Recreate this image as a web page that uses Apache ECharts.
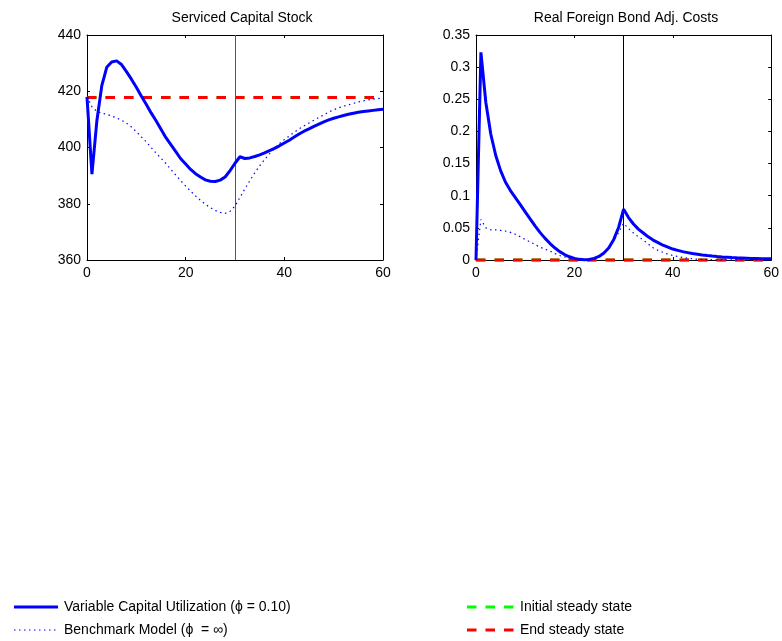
<!DOCTYPE html>
<html>
<head>
<meta charset="utf-8">
<script src="https://cdn.jsdelivr.net/npm/echarts@6/dist/echarts.min.js"></script>
<style>
  html, body { margin: 0; padding: 0; background: #ffffff; }
  #chart { width: 782px; height: 641px; }
</style>
</head>
<body>
<div id="chart"></div>
<script>
// Quarters after the shock (0..60)
const periods = Array.from({ length: 61 }, (_, i) => i);

// Serviced capital stock
const capitalVariable = [
  418.0, 390.5, 409.5, 422.0, 428.5, 430.4, 430.8, 429.5, 427.0, 424.3,
  421.4, 418.3, 415.4, 412.3, 409.5, 406.5, 403.5, 401.0, 398.5, 396.0,
  394.1, 392.2, 390.7, 389.5, 388.5, 388.0, 387.9, 388.4, 389.5, 391.8,
  394.4, 396.7, 396.1, 396.3, 396.8, 397.4, 398.1, 398.9, 399.7, 400.6,
  401.6, 402.6, 403.7, 404.8, 405.8, 406.6, 407.5, 408.3, 409.1, 409.8,
  410.4, 410.9, 411.4, 411.8, 412.2, 412.5, 412.8, 413.0, 413.2, 413.4,
  413.6
];
const capitalBenchmark = [
  418.0, 414.5, 412.8, 412.2, 411.8, 411.2, 410.5, 409.7, 408.7, 407.3,
  405.6, 403.8, 402.0, 400.0, 398.0, 396.2, 394.3, 392.2, 390.2, 388.2,
  386.3, 384.5, 382.8, 381.2, 379.8, 378.6, 377.6, 376.9, 376.6, 377.3,
  379.2, 382.2, 385.3, 388.2, 391.0, 393.5, 395.7, 397.8, 399.7, 401.4,
  402.8, 404.1, 405.4, 406.6, 407.7, 408.7, 409.7, 410.7, 411.6, 412.6,
  413.4, 414.1, 414.7, 415.2, 415.7, 416.2, 416.6, 416.9, 417.2, 417.4,
  417.6
];
const capitalInitialSS = 417.8;
const capitalEndSS = 417.8;

// Real foreign bond adjustment costs
const costVariable = [
  0.000, 0.323, 0.245, 0.196, 0.163, 0.139, 0.121, 0.108, 0.097, 0.086,
  0.075, 0.064, 0.053, 0.043, 0.034, 0.026, 0.019, 0.013, 0.0085, 0.005,
  0.0025, 0.001, 0.0003, 0.0008, 0.0025, 0.0055, 0.011, 0.019, 0.032, 0.051,
  0.079, 0.066, 0.056, 0.048, 0.042, 0.036, 0.031, 0.027, 0.023, 0.020,
  0.017, 0.015, 0.013, 0.0115, 0.010, 0.0089, 0.0078, 0.0069, 0.0061, 0.0054,
  0.0048, 0.0043, 0.0038, 0.0034, 0.0031, 0.0028, 0.0025, 0.0023, 0.0021, 0.0019,
  0.0018
];
const costBenchmark = [
  0.000, 0.063, 0.050, 0.047, 0.047, 0.046, 0.045, 0.043, 0.040, 0.036,
  0.032, 0.028, 0.024, 0.020, 0.017, 0.014, 0.010, 0.007, 0.0048, 0.003,
  0.0016, 0.0006, 0.0001, 0.0005, 0.002, 0.0055, 0.011, 0.019, 0.030, 0.043,
  0.057, 0.049, 0.042, 0.036, 0.031, 0.025, 0.019, 0.015, 0.012, 0.009,
  0.007, 0.0055, 0.004, 0.0028, 0.002, 0.0012, 0.0008, 0.0006, 0.0004, 0.0003,
  0.0002, 0.0002, 0.0001, 0.0001, 0.0001, 0.0001, 0.0, 0.0, 0.0, 0.0,
  0.0
];
const costInitialSS = 0;
const costEndSS = 0;

// Date of the regime change marked in both panels
const switchPeriod = 30;

// Axis ranges and tick spacing
const xRange = { min: 0, max: 60, interval: 20 };
const capitalRange = { min: 360, max: 440, interval: 20 };
const costRange = { min: 0, max: 0.35, interval: 0.05 };

const panelTitles = ['Serviced Capital Stock', 'Real Foreign Bond Adj. Costs'];
const names = {
  variable: 'Variable Capital Utilization (\u03D5 = 0.10)',
  benchmark: 'Benchmark Model (\u03D5  = \u221E)',
  initial: 'Initial steady state',
  end: 'End steady state'
};

const FONT = '"Liberation Sans", Arial, Helvetica, sans-serif';
const BLUE = '#0000ff';
const GREEN = '#00ff00';
const RED = '#ff0000';

// Line looks shared by the plotted series and their legend keys
const styles = {
  variable: { stroke: BLUE, lineWidth: 3, lineDash: null },
  benchmark: { stroke: BLUE, lineWidth: 1.2, lineDash: [1.5, 3.5] },
  initial: { stroke: GREEN, lineWidth: 3, lineDash: [9.5, 9] },
  end: { stroke: RED, lineWidth: 3, lineDash: [9.5, 9] }
};
const toLineStyle = (s) => ({ color: s.stroke, width: s.lineWidth, type: s.lineDash || 'solid' });

const pairs = (vals) => periods.map((t, i) => [t, vals[i]]);
const flat = (v) => periods.map((t) => [t, v]);

function mainAxis(range, pos, gridIndex) {
  return {
    type: 'value', gridIndex, position: pos,
    min: range.min, max: range.max, interval: range.interval,
    axisLine: { show: true, onZero: false, lineStyle: { color: '#000', width: 1 } },
    axisTick: { show: true, inside: true, length: 3, lineStyle: { color: '#000' } },
    axisLabel: {
      show: true, color: '#000', fontSize: 14, fontFamily: FONT, margin: 6,
      formatter: (v) => String(+v.toFixed(2))
    },
    splitLine: { show: false }
  };
}
function frameAxis(range, pos, gridIndex) {
  return {
    type: 'value', gridIndex, position: pos,
    min: range.min, max: range.max, interval: range.interval,
    axisLine: { show: true, onZero: false, lineStyle: { color: '#000', width: 1 } },
    axisTick: { show: true, inside: true, length: 3, lineStyle: { color: '#000' } },
    axisLabel: { show: false },
    splitLine: { show: false }
  };
}

function panelSeries(gridIdx, variable, benchmark, initSS, endSS, switchColor) {
  const xi = gridIdx * 2, yi = gridIdx * 2;
  const base = { type: 'line', xAxisIndex: xi, yAxisIndex: yi, symbol: 'none', clip: false, silent: true };
  return [
    Object.assign({}, base, {
      name: names.initial, data: flat(initSS), z: 3,
      lineStyle: toLineStyle(styles.initial), itemStyle: { color: GREEN }
    }),
    Object.assign({}, base, {
      name: names.end, data: flat(endSS), z: 4,
      lineStyle: toLineStyle(styles.end), itemStyle: { color: RED }
    }),
    Object.assign({}, base, {
      name: names.benchmark, data: pairs(benchmark), z: 5,
      lineStyle: toLineStyle(styles.benchmark), itemStyle: { color: BLUE }
    }),
    Object.assign({}, base, {
      name: names.variable, data: pairs(variable), z: 6,
      lineStyle: toLineStyle(styles.variable), itemStyle: { color: BLUE },
      markLine: {
        silent: true, symbol: ['none', 'none'], label: { show: false },
        lineStyle: { color: switchColor, width: 1, type: 'solid' },
        data: [{ xAxis: switchPeriod }]
      }
    })
  ];
}

// Legend keys: a short line sample followed by its label
function legendEntry(key, x, y, len) {
  const s = styles[key];
  return [
    { type: 'line', silent: true,
      shape: { x1: x, y1: y, x2: x + len, y2: y },
      style: { stroke: s.stroke, lineWidth: s.lineWidth, lineDash: s.lineDash } },
    { type: 'text', silent: true, x: x + len + 6, y: y,
      style: { text: names[key], textAlign: 'left', textVerticalAlign: 'middle', font: '14px ' + FONT, fill: '#000' } }
  ];
}

const chart = echarts.init(document.getElementById('chart'), null, { renderer: 'canvas' });

chart.setOption({
  animation: false,
  backgroundColor: '#ffffff',
  textStyle: { fontFamily: FONT },
  grid: [
    { left: 87, top: 35, width: 296, height: 225 },
    { left: 476, top: 35, width: 296, height: 225 }
  ],
  xAxis: [
    mainAxis(xRange, 'bottom', 0),
    frameAxis(xRange, 'top', 0),
    mainAxis(xRange, 'bottom', 1),
    frameAxis(xRange, 'top', 1)
  ],
  yAxis: [
    mainAxis(capitalRange, 'left', 0),
    frameAxis(capitalRange, 'right', 0),
    mainAxis(costRange, 'left', 1),
    frameAxis(costRange, 'right', 1)
  ],
  graphic: [
    { type: 'text', x: 242, y: 18, silent: true,
      style: { text: panelTitles[0], textAlign: 'center', textVerticalAlign: 'middle', font: '14px ' + FONT, fill: '#000' } },
    { type: 'text', x: 626, y: 18, silent: true,
      style: { text: panelTitles[1], textAlign: 'center', textVerticalAlign: 'middle', font: '14px ' + FONT, fill: '#000' } }
  ].concat(
    legendEntry('variable', 14, 607, 44),
    legendEntry('benchmark', 14, 630, 44),
    legendEntry('initial', 467, 607, 47),
    legendEntry('end', 467, 630, 47)
  ),
  series: [].concat(
    panelSeries(0, capitalVariable, capitalBenchmark, capitalInitialSS, capitalEndSS, '#555555'),
    panelSeries(1, costVariable, costBenchmark, costInitialSS, costEndSS, '#000000')
  )
});
</script>
</body>
</html>
